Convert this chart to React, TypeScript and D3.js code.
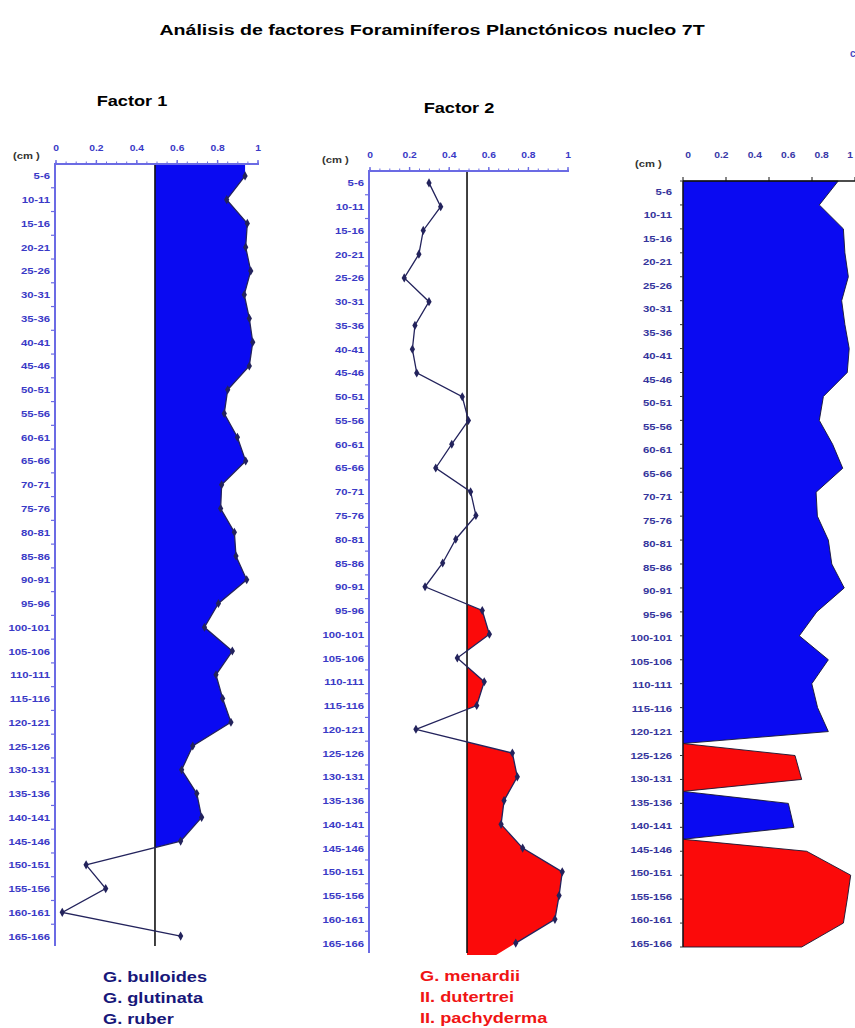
import React from "react";
import * as d3 from "d3";

// Core depth intervals (cm)
const DEPTHS = [
  "5-6", "10-11", "15-16", "20-21", "25-26", "30-31", "35-36", "40-41", "45-46",
  "50-51", "55-56", "60-61", "65-66", "70-71", "75-76", "80-81", "85-86", "90-91",
  "95-96", "100-101", "105-106", "110-111", "115-116", "120-121", "125-126",
  "130-131", "135-136", "140-141", "145-146", "150-151", "155-156", "160-161", "165-166",
];

// Factor loadings per depth
const FACTOR_1 = [
  0.936, 0.845, 0.947, 0.939, 0.964, 0.932, 0.957, 0.974, 0.957, 0.85, 0.833,
  0.898, 0.939, 0.82, 0.815, 0.883, 0.891, 0.944, 0.804, 0.735, 0.873, 0.792,
  0.825, 0.866, 0.677, 0.622, 0.697, 0.721, 0.617, 0.149, 0.246, 0.031, 0.617,
];
const FACTOR_2 = [
  0.298, 0.357, 0.269, 0.247, 0.173, 0.298, 0.227, 0.214, 0.236, 0.466, 0.497,
  0.413, 0.332, 0.508, 0.535, 0.433, 0.367, 0.278, 0.567, 0.603, 0.441, 0.577,
  0.539, 0.232, 0.719, 0.744, 0.677, 0.662, 0.771, 0.971, 0.955, 0.934, 0.736,
];

// Combined profile: loading of the dominant factor and which factor it is
const DOMINANT_LOADING = [
  0.722, 0.634, 0.746, 0.753, 0.769, 0.738, 0.753, 0.773, 0.764, 0.653, 0.634,
  0.696, 0.743, 0.619, 0.625, 0.676, 0.692, 0.75, 0.622, 0.541, 0.676, 0.599,
  0.626, 0.676, 0.521, 0.552, 0.49, 0.516, 0.575, 0.78, 0.764, 0.746, 0.552,
];
const DOMINANT_FACTOR = [
  1, 1, 1, 1, 1, 1, 1, 1, 1, 1, 1, 1, 1, 1, 1, 1, 1, 1, 1, 1, 1, 1, 1, 1,
  2, 2, 1, 1, 2, 2, 2, 2, 2,
];

const LOADING_TICKS = [0, 0.2, 0.4, 0.6, 0.8, 1];
const LOADING_TICK_LABELS = ["0", "0.2", "0.4", "0.6", "0.8", "1"];
const THRESHOLD = 0.49;

// Depth spans whose loadings above the threshold are shaded
const FACTOR_1_SHADED = ["5-6", "150-151"];
const FACTOR_2_SHADED = ["90-91", "165-166"];

const FACTOR_1_SPECIES = ["G. bulloides", "G. glutinata", "G. ruber"];
const FACTOR_2_SPECIES = ["G. menardii", "II. dutertrei", "II. pachyderma"];

const TITLE = "Análisis de factores Foraminíferos Planctónicos nucleo 7T";

const FONT = "'Liberation Sans', Arial, Helvetica, sans-serif";
const AXIS_BLUE = "#6b6be4";
const LABEL_BLUE = "#3a3ac6";
const LINE_NAVY = "#23235c";
const FILL_BLUE = "#0a0af2";
const FILL_RED = "#fb0a0a";

type TxtProps = {
  x: number;
  y: number;
  size: number;
  fill?: string;
  anchor?: "start" | "middle" | "end";
  sx?: number;
  weight?: string;
  children: React.ReactNode;
};

function Txt({ x, y, size, fill = "#000", anchor = "start", sx = 1, weight = "bold", children }: TxtProps) {
  return (
    <text
      transform={`translate(${x},${y}) scale(${sx},1)`}
      fontFamily={FONT}
      fontSize={size}
      fontWeight={weight}
      fill={fill}
      textAnchor={anchor}
    >
      {children}
    </text>
  );
}

type ProfileProps = {
  id: string;
  values: number[];
  x0: number;
  x1: number;
  yTop: number;
  yBottom: number;
  fill: string;
  shaded: string[];
  cap: "top" | "bottom";
  labelRight: number;
  tickLabelY: number;
  cmX: number;
  cmY: number;
};

function LoadingProfile({ id, values, x0, x1, yTop, yBottom, fill, shaded, cap, labelRight, tickLabelY, cmX, cmY }: ProfileProps) {
  const x = d3.scaleLinear().domain([0, 1]).range([x0, x1]);
  const y = d3.scaleBand<string>().domain(DEPTHS).range([yTop, yBottom]).padding(0);
  const bw = y.bandwidth();
  const cy = (d: string) => (y(d) as number) + bw / 2;
  const pts = DEPTHS.map((d, i) => ({ d, v: values[i], y: cy(d) }));

  const i0 = DEPTHS.indexOf(shaded[0]);
  const i1 = DEPTHS.indexOf(shaded[1]);
  let shadePts = pts.slice(i0, i1 + 1).map((p) => ({ y: p.y, v: p.v }));
  if (cap === "top") {
    shadePts = [{ y: yTop, v: shadePts[0].v }, ...shadePts];
  } else {
    const n = shadePts.length;
    const last = shadePts[n - 1];
    const prev = shadePts[n - 2];
    const slope = (last.v - prev.v) / (last.y - prev.y);
    shadePts = [...shadePts, { y: yBottom, v: last.v + slope * (yBottom - last.y) }];
  }

  const area = d3
    .area<{ y: number; v: number }>()
    .y((p) => p.y)
    .x0(x(THRESHOLD))
    .x1((p) => x(p.v));
  const line = d3
    .line<{ y: number; v: number }>()
    .x((p) => x(p.v))
    .y((p) => p.y);
  const diamond = d3.symbol().type(d3.symbolDiamond).size(24)() as string;
  const minorTicks = d3.range(0, 1.0001, 0.05);

  return (
    <g>
      <defs>
        <clipPath id={id}>
          <rect x={x(THRESHOLD)} y={yTop} width={x1 - x(THRESHOLD) + 20} height={yBottom - yTop} />
        </clipPath>
      </defs>

      <path d={area(shadePts) as string} fill={fill} clipPath={`url(#${id})`} />

      {/* threshold reference */}
      <line x1={x(THRESHOLD)} x2={x(THRESHOLD)} y1={yTop} y2={yBottom - 2} stroke="#111" strokeWidth={1.6} />

      {/* left (depth) axis */}
      <line x1={x0 - 1} x2={x0 - 1} y1={yTop} y2={yBottom - 2} stroke={AXIS_BLUE} strokeWidth={2} />
      {DEPTHS.map((d, i) =>
        i === 0 ? null : (
          <line key={d} x1={x0 - 5} x2={x0 - 1} y1={y(d) as number} y2={y(d) as number} stroke={AXIS_BLUE} strokeWidth={1.2} />
        )
      )}
      {DEPTHS.map((d) => (
        <Txt key={d} x={labelRight} y={cy(d) + 3.5} size={9.3} sx={1.22} anchor="end" fill={LABEL_BLUE}>
          {d}
        </Txt>
      ))}

      {/* top (loading) axis */}
      <line x1={x0 - 2} x2={x1 + 1} y1={yTop} y2={yTop} stroke={AXIS_BLUE} strokeWidth={2} />
      {minorTicks.map((t) => (
        <line key={t} x1={x(t)} x2={x(t)} y1={yTop - 2.5} y2={yTop} stroke={AXIS_BLUE} strokeWidth={1} />
      ))}
      {LOADING_TICKS.map((t) => (
        <line key={t} x1={x(t)} x2={x(t)} y1={yTop - 4} y2={yTop} stroke={AXIS_BLUE} strokeWidth={1.4} />
      ))}
      {LOADING_TICKS.map((t, i) => (
        <Txt key={t} x={x(t)} y={tickLabelY} size={8.6} sx={1.2} anchor="middle" fill={LABEL_BLUE}>
          {LOADING_TICK_LABELS[i]}
        </Txt>
      ))}
      <Txt x={cmX} y={cmY} size={9} sx={1.25} fill="#333">
        (cm )
      </Txt>

      {/* loading curve */}
      <path d={line(pts) as string} fill="none" stroke={LINE_NAVY} strokeWidth={1.3} />
      {pts.map((p) => (
        <path key={p.d} d={diamond} transform={`translate(${x(p.v)},${p.y})`} fill={LINE_NAVY} />
      ))}
    </g>
  );
}

function DominancePanel() {
  const x = d3.scaleLinear().domain([0, 1]).range([683, 898]);
  const xLab = d3.scaleLinear().domain([0, 1]).range([688, 855]);
  const y = d3.scalePoint<string>().domain(DEPTHS).range([181, 947]);
  const yLab = d3.scalePoint<string>().domain(DEPTHS).range([191, 943]);
  const n = DEPTHS.length;

  const segments: { f: number; idx: number[] }[] = [];
  DEPTHS.forEach((_, i) => {
    const f = DOMINANT_FACTOR[i];
    if (!segments.length || segments[segments.length - 1].f !== f) segments.push({ f, idx: [] });
    segments[segments.length - 1].idx.push(i);
  });

  const yAt = (i: number) => y(DEPTHS[i]) as number;
  const polygons = segments.map((s) => {
    const first = s.idx[0];
    const last = s.idx[s.idx.length - 1];
    const top = first === 0 ? yAt(0) : (yAt(first - 1) + yAt(first)) / 2;
    const bottom = last === n - 1 ? yAt(last) : (yAt(last) + yAt(last + 1)) / 2;
    const ring: [number, number][] = [
      [x(0), top],
      ...s.idx.map((i) => [x(DOMINANT_LOADING[i]), yAt(i)] as [number, number]),
      [x(0), bottom],
    ];
    return { f: s.f, d: (d3.line()(ring) as string) + "Z" };
  });
  const ordered = [...polygons.filter((p) => p.f === 1), ...polygons.filter((p) => p.f === 2)];

  return (
    <g>
      {ordered.map((p, i) => (
        <path key={i} d={p.d} fill={p.f === 1 ? FILL_BLUE : FILL_RED} stroke="#141430" strokeWidth={0.9} />
      ))}
      <line x1={x(0)} x2={x(0)} y1={181} y2={947} stroke="#111" strokeWidth={1.2} />
      <line x1={x(0)} x2={860} y1={181} y2={181} stroke="#111" strokeWidth={1.3} />
      {LOADING_TICKS.map((t) => (
        <line key={t} x1={x(t)} x2={x(t)} y1={177} y2={181} stroke="#111" strokeWidth={1} />
      ))}
      {DEPTHS.map((d) => (
        <line key={d} x1={x(0) - 3} x2={x(0)} y1={y(d) as number} y2={y(d) as number} stroke="#333" strokeWidth={1} />
      ))}
      {LOADING_TICKS.map((t, i) => (
        <Txt key={t} x={Math.min(xLab(t), 850)} y={158} size={8.6} sx={1.2} anchor="middle" fill="#3838a8">
          {LOADING_TICK_LABELS[i]}
        </Txt>
      ))}
      <Txt x={635} y={167} size={9} sx={1.25} fill="#333">
        (cm )
      </Txt>
      {DEPTHS.map((d) => (
        <Txt key={d} x={672} y={(yLab(d) as number) + 3.5} size={9.3} sx={1.22} anchor="end" fill="#35359c">
          {d}
        </Txt>
      ))}
    </g>
  );
}

export default function App() {
  return (
    <div style={{ position: "fixed", left: 0, top: 0, width: 855, height: 1028, overflow: "hidden", background: "#fff" }}>
      <svg width={855} height={1028} style={{ display: "block" }}>
        <rect width={855} height={1028} fill="#fff" />
        <Txt x={432} y={35} size={14} sx={1.4} anchor="middle">
          {TITLE}
        </Txt>
        <Txt x={850} y={57} size={10} fill="#4a4ac0">
          c
        </Txt>
        <Txt x={132} y={106} size={14} sx={1.3} anchor="middle">
          Factor 1
        </Txt>
        <Txt x={459} y={113} size={14} sx={1.3} anchor="middle">
          Factor 2
        </Txt>

        <LoadingProfile
          id="clip-f1"
          values={FACTOR_1}
          x0={56}
          x1={258}
          yTop={164}
          yBottom={948}
          fill={FILL_BLUE}
          shaded={FACTOR_1_SHADED}
          cap="top"
          labelRight={50}
          tickLabelY={151}
          cmX={13}
          cmY={159}
        />
        <LoadingProfile
          id="clip-f2"
          values={FACTOR_2}
          x0={370}
          x1={568}
          yTop={171}
          yBottom={955}
          fill={FILL_RED}
          shaded={FACTOR_2_SHADED}
          cap="bottom"
          labelRight={364}
          tickLabelY={158}
          cmX={322}
          cmY={163}
        />
        <DominancePanel />

        {FACTOR_1_SPECIES.map((s, i) => (
          <Txt key={s} x={103} y={982 + i * 21} size={14} sx={1.3} fill="#17177a">
            {s}
          </Txt>
        ))}
        {FACTOR_2_SPECIES.map((s, i) => (
          <Txt key={s} x={420} y={981 + i * 21} size={14} sx={1.3} fill="#f01414">
            {s}
          </Txt>
        ))}
      </svg>
    </div>
  );
}
